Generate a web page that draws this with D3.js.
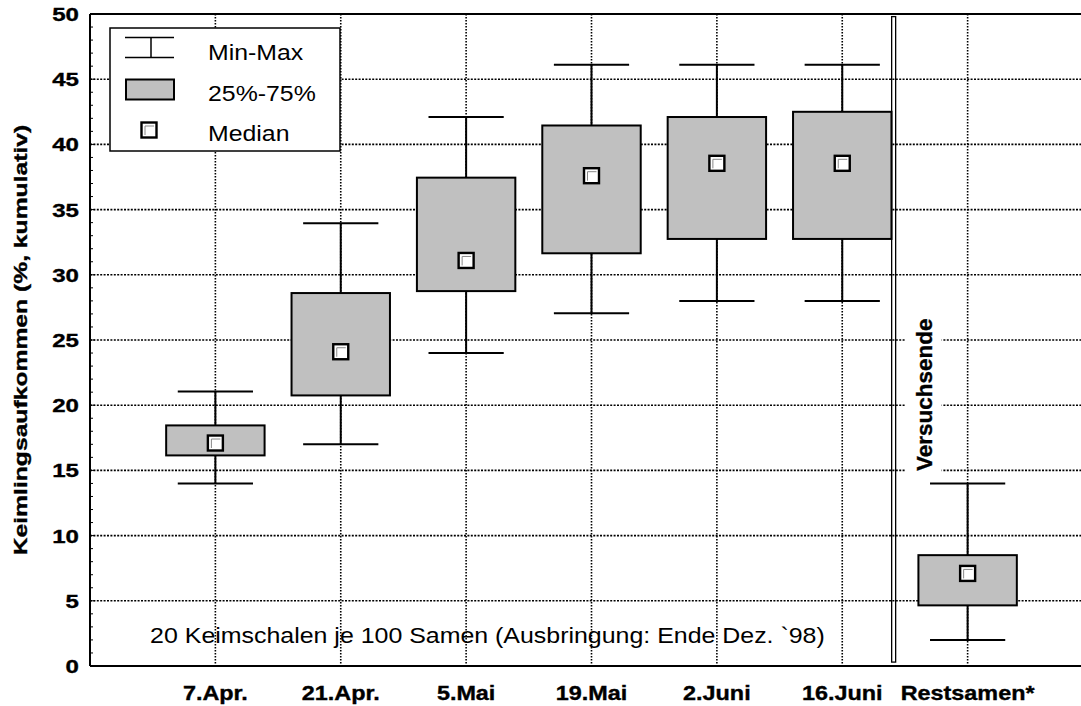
<!DOCTYPE html>
<html>
<head>
<meta charset="utf-8">
<script src="https://cdn.jsdelivr.net/npm/d3@7/dist/d3.min.js"></script>
<style>
  body { margin: 0; background: #fff; }
</style>
</head>
<body>
<div id="chart"></div>
<script>
// Keimlingsaufkommen per Termin (Box = 25%-75%, Whisker = Min-Max)
var categories = ["7.Apr.", "21.Apr.", "5.Mai", "19.Mai", "2.Juni", "16.Juni", "Restsamen*"];
var minVals = [14, 17, 24, 27.05, 28, 28, 2];
var q1Vals  = [16.15, 20.75, 28.75, 31.65, 32.75, 32.75, 4.65];
var medVals = [17.1, 24.1, 31.1, 37.6, 38.55, 38.55, 7.1];
var q3Vals  = [18.45, 28.6, 37.45, 41.45, 42.1, 42.5, 8.5];
var maxVals = [21.05, 33.95, 42.1, 46.1, 46.1, 46.1, 14];
var yTicks = [0, 5, 10, 15, 20, 25, 30, 35, 40, 45, 50];
var legendLabels = ["Min-Max", "25%-75%", "Median"];
var endPos = 6.41;      // Versuchsende (zwischen 16.Juni und Restsamen)

var FONT = '"Liberation Sans", Arial, sans-serif';

var svg = d3.select("#chart").append("svg")
  .attr("width", 1081)
  .attr("height", 706)
  .style("display", "block");

var x = d3.scaleLinear().domain([0, 8]).range([90, 1093]);
var y = d3.scaleLinear().domain([0, 50]).range([666, 14]);
var step = x(1) - x(0);

// text helper: the original fonts run wider than Arial, so stretch them
function label(parent, px, py, str, size, weight, sx, anchor, rot) {
  var t = parent.append("text")
    .attr("transform", "translate(" + px + "," + py + ")" + (rot ? " rotate(" + rot + ")" : "") + " scale(" + sx + ",1)")
    .attr("text-anchor", anchor)
    .attr("font-family", FONT)
    .attr("font-size", size)
    .attr("font-weight", weight)
    .attr("fill", "#000")
    .text(str);
  if (weight === "bold") t.attr("stroke", "#000").attr("stroke-width", 0.35);
  return t;
}

// grid
var grid = svg.append("g");
grid.selectAll(".hgrid")
  .data(yTicks.filter(function(d) { return d > 0 && d < 50; }))
  .enter().append("line")
  .attr("x1", x(0)).attr("x2", x(8))
  .attr("y1", function(d) { return y(d); })
  .attr("y2", function(d) { return y(d); })
  .attr("stroke", "#000")
  .attr("stroke-width", 1.6)
  .attr("stroke-dasharray", "2,1.4");

grid.selectAll(".vgrid")
  .data(categories)
  .enter().append("line")
  .attr("x1", function(d, i) { return x(i + 1); })
  .attr("x2", function(d, i) { return x(i + 1); })
  .attr("y1", y(50)).attr("y2", y(0))
  .attr("stroke", "#000")
  .attr("stroke-width", 1.6)
  .attr("stroke-dasharray", "1.6,1.4");

// boxes
var boxW = step * 0.785;
var capW = step * 0.6;
var boxes = svg.append("g");

categories.forEach(function(c, i) {
  var cx = x(i + 1);
  var g = boxes.append("g");
  g.append("line")
    .attr("x1", cx).attr("x2", cx)
    .attr("y1", y(maxVals[i])).attr("y2", y(minVals[i]))
    .attr("stroke", "#000").attr("stroke-width", 2);
  [minVals[i], maxVals[i]].forEach(function(v) {
    g.append("line")
      .attr("x1", cx - capW / 2).attr("x2", cx + capW / 2)
      .attr("y1", y(v)).attr("y2", y(v))
      .attr("stroke", "#000").attr("stroke-width", 2);
  });
  g.append("rect")
    .attr("x", cx - boxW / 2)
    .attr("y", y(q3Vals[i]))
    .attr("width", boxW)
    .attr("height", y(q1Vals[i]) - y(q3Vals[i]))
    .attr("fill", "#c0c0c0")
    .attr("stroke", "#000")
    .attr("stroke-width", 2);
  medianMark(g, cx, y(medVals[i]));
});

function medianMark(g, cx, cy) {
  g.append("rect")
    .attr("x", cx - 7.5).attr("y", cy - 7.5)
    .attr("width", 15).attr("height", 15)
    .attr("fill", "#fff")
    .attr("stroke", "#000")
    .attr("stroke-width", 2.4);
  g.append("path")
    .attr("d", "M" + (cx - 4) + "," + (cy + 5) + "V" + (cy - 4) + "H" + (cx + 5))
    .attr("fill", "none")
    .attr("stroke", "#888")
    .attr("stroke-width", 1);
}

// Versuchsende
svg.append("rect")
  .attr("x", x(endPos) - 2)
  .attr("y", y(49.8))
  .attr("width", 4)
  .attr("height", y(0.3) - y(49.8))
  .attr("fill", "none")
  .attr("stroke", "#000")
  .attr("stroke-width", 1.3);

var vx = x(endPos) + 31;
svg.append("rect")
  .attr("x", vx - 19).attr("y", y(27.2))
  .attr("width", 36).attr("height", y(14.6) - y(27.2))
  .attr("fill", "#fff");
label(svg, vx + 7, y(20.8), "Versuchsende", 22.5, "bold", 1, "middle", -90);

// axes frame
svg.append("line")
  .attr("x1", x(0)).attr("x2", x(0)).attr("y1", y(50)).attr("y2", y(0))
  .attr("stroke", "#000").attr("stroke-width", 2);
svg.append("line")
  .attr("x1", x(0)).attr("x2", x(8)).attr("y1", y(0)).attr("y2", y(0))
  .attr("stroke", "#000").attr("stroke-width", 2);
svg.append("line")
  .attr("x1", x(0)).attr("x2", x(8)).attr("y1", y(50)).attr("y2", y(50))
  .attr("stroke", "#000").attr("stroke-width", 2);

svg.append("g").selectAll("line")
  .data(d3.range(0, 51))
  .enter().append("line")
  .attr("x1", x(0)).attr("x2", function(d) { return x(0) + (d % 5 === 0 ? 5 : 3); })
  .attr("y1", function(d) { return y(d); })
  .attr("y2", function(d) { return y(d); })
  .attr("stroke", "#000").attr("stroke-width", 1);

// tick labels
yTicks.forEach(function(t) {
  label(svg, 79, y(t) + 7, t, 18.5, "bold", 1.3, "end");
});
categories.forEach(function(c, i) {
  label(svg, x(i + 1), 700, c, 19.5, "bold", 1.2, "middle");
});

label(svg, 27, (y(0) + y(50)) / 2, "Keimlingsaufkommen (%, kumulativ)", 19, "bold", 1.3, "middle", -90);

label(svg, x(3.17), y(1.75), "20 Keimschalen je 100 Samen (Ausbringung: Ende Dez. `98)", 21.5, "normal", 1.16, "middle");

// legend
var lg = svg.append("g");
lg.append("rect")
  .attr("x", 110).attr("y", 28)
  .attr("width", 230).attr("height", 123)
  .attr("fill", "#fff")
  .attr("stroke", "#000")
  .attr("stroke-width", 1.5);

lg.append("line").attr("x1", 125).attr("x2", 174).attr("y1", 37.5).attr("y2", 37.5)
  .attr("stroke", "#000").attr("stroke-width", 1.5);
lg.append("line").attr("x1", 125).attr("x2", 174).attr("y1", 57.5).attr("y2", 57.5)
  .attr("stroke", "#000").attr("stroke-width", 1.5);
lg.append("line").attr("x1", 151).attr("x2", 151).attr("y1", 37.5).attr("y2", 57.5)
  .attr("stroke", "#000").attr("stroke-width", 1.5);
lg.append("rect").attr("x", 126).attr("y", 79.5).attr("width", 48).attr("height", 20)
  .attr("fill", "#c0c0c0").attr("stroke", "#000").attr("stroke-width", 2);
medianMark(lg, 149, 130);

legendLabels.forEach(function(l, i) {
  label(lg, 208, 60 + 40.5 * i, l, 22, "normal", 1.13, "start");
});
</script>
</body>
</html>
